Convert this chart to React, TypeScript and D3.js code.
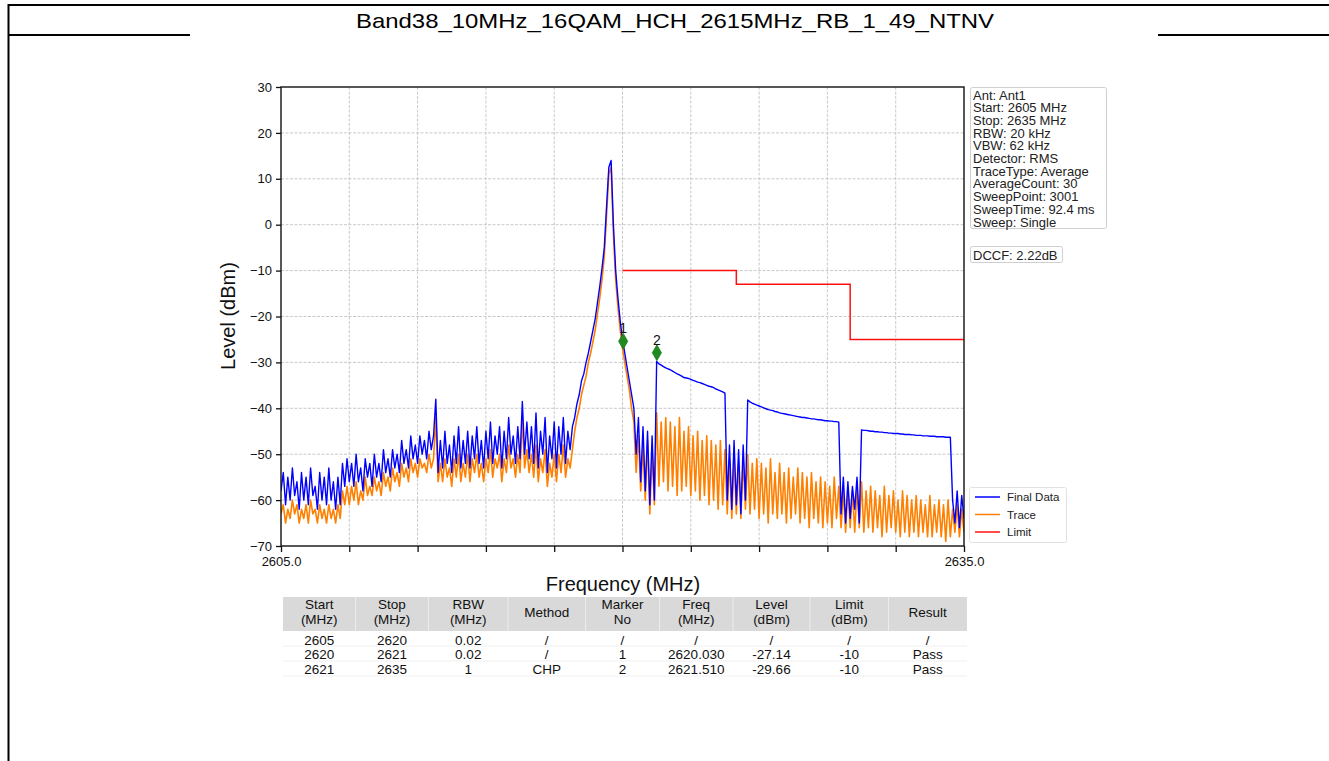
import React, { useEffect, useRef } from "react";
import * as d3 from "d3";

// spectrum sweep, 2605..2635 MHz, one value every 0.1 MHz
const chartTitle = "Band38_10MHz_16QAM_HCH_2615MHz_RB_1_49_NTNV";
const freqStart = 2605;
const freqStop = 2635;
const freqStep = 0.1;

// Final Data (blue)
const finalData = [
  -58, -54, -61, -55, -60, -53, -59, -56, -62, -54,
  -60, -55, -61, -53, -59, -57, -62, -54, -60, -55,
  -61, -53, -60, -56, -62, -55, -61, -52, -57, -51,
  -56, -52, -57, -50, -56, -53, -58, -51, -55, -52,
  -57, -50, -55, -52, -56, -49, -54, -51, -55, -49,
  -53, -50, -54, -47, -52, -49, -53, -46, -51, -48,
  -52, -46, -50, -47, -51, -45, -49, -46, -38, -54,
  -47, -53, -45, -52, -48, -54, -46, -52, -44, -53,
  -47, -52, -45, -53, -46, -51, -44, -52, -47, -53,
  -45, -51, -43, -52, -46, -50, -44, -53, -45, -51,
  -42, -50, -46, -52, -44, -51, -38.5, -50, -43, -51,
  -44, -52, -41, -53, -45, -50, -42, -54, -46, -51,
  -43, -53, -44, -50, -42, -52, -45, -49, -44, -42,
  -39, -37, -34, -32.5, -30, -28, -25.5, -23, -20.5, -17,
  -13.5, -9.5, -5, 4, 12.5, 14, 0, -10, -16, -21,
  -25, -28, -31, -34, -37, -40, -50, -42, -56, -44,
  -58, -45, -61, -46, -60, -29.8, -30.3, -30.6, -30.9, -31.2,
  -31.4, -31.6, -31.9, -32.2, -32.5, -32.7, -33.0, -33.3, -33.4, -33.5,
  -33.7, -33.9, -34.1, -34.3, -34.4, -34.6, -34.8, -35.0, -35.2, -35.3,
  -35.5, -35.8, -36.0, -36.2, -36.4, -36.7, -60, -48, -62, -47,
  -61, -49, -63, -48, -60, -38.2, -38.6, -38.9, -39.1, -39.3,
  -39.5, -39.7, -39.9, -40.1, -40.3, -40.4, -40.5, -40.7, -40.8, -41.0,
  -41.1, -41.2, -41.3, -41.4, -41.5, -41.6, -41.7, -41.8, -41.9, -42.0,
  -42.0, -42.1, -42.2, -42.3, -42.3, -42.4, -42.5, -42.5, -42.6, -42.7,
  -42.7, -42.8, -42.8, -42.9, -42.9, -43.0, -63, -55, -65, -56,
  -64, -57, -62, -55, -65, -44.7, -44.8, -44.8, -44.9, -45.0,
  -45.0, -45.1, -45.1, -45.2, -45.2, -45.3, -45.3, -45.4, -45.4, -45.5,
  -45.5, -45.5, -45.6, -45.6, -45.7, -45.7, -45.7, -45.8, -45.8, -45.9,
  -45.9, -45.9, -46.0, -46.0, -46.0, -46.1, -46.1, -46.1, -46.2, -46.2,
  -46.2, -46.2, -46.3, -46.3, -46.3, -60, -65, -58, -66, -59,
  -64,
];

// Trace (orange)
const traceData = [
  -63, -61, -65, -62, -64, -60, -63, -61, -65, -62,
  -64, -61, -65, -60, -63, -62, -65, -61, -64, -62,
  -65, -61, -64, -62, -65, -61, -64, -58, -61, -57,
  -61, -57, -60, -56, -61, -58, -60, -55, -59, -57,
  -59, -55, -58, -56, -59, -54, -57, -55, -58, -53,
  -56, -54, -57, -52, -55, -53, -56, -51, -54, -52,
  -55, -51, -53, -52, -54, -50, -53, -51, -42, -56,
  -52, -56, -51, -55, -53, -57, -51, -55, -50, -56,
  -52, -55, -50, -56, -51, -54, -50, -55, -52, -56,
  -51, -54, -49, -55, -51, -53, -50, -56, -51, -54,
  -48, -53, -51, -55, -50, -54, -42, -53, -49, -54,
  -50, -55, -48, -56, -51, -54, -49, -57, -52, -55,
  -50, -56, -50, -54, -48, -55, -51, -53, -49, -45,
  -42, -40, -37, -35, -33, -30, -28, -25.5, -23, -19.5,
  -16, -12, -7, 2, 11, 12.5, -2, -12, -18, -23,
  -27, -30, -33, -36, -40, -43, -54, -46, -58, -48,
  -60, -47, -63, -49, -61, -41, -57, -43, -56, -42,
  -58, -43, -57, -44, -59, -42, -58, -45, -57, -44,
  -59, -46, -58, -45, -60, -47, -59, -46, -61, -47,
  -60, -48, -62, -47, -61, -49, -63, -51, -64, -50,
  -63, -52, -64, -51, -62, -50, -63, -52, -62, -51,
  -64, -52, -63, -53, -65, -51, -63, -54, -64, -52,
  -63, -54, -65, -53, -64, -55, -63, -53, -65, -54,
  -64, -55, -66, -54, -64, -56, -65, -55, -66, -56,
  -65, -57, -66, -55, -64, -57, -66, -58, -67, -57,
  -66, -58, -67, -57, -66, -56, -67, -58, -66, -57,
  -67, -58, -66, -59, -68, -57, -67, -59, -66, -58,
  -67, -60, -68, -58, -67, -59, -68, -60, -67, -59,
  -68, -60, -67, -61, -68, -59, -68, -61, -67, -60,
  -68, -61, -69, -60, -68, -62, -67, -61, -68, -62,
  -67,
];

// limit mask
const limitFreqs = [2620, 2625, 2630, 2635];
const limitLevels = [-10, -13, -25, -25];

// markers
const markerNames = ["1", "2"];
const markerFreqs = [2620.03, 2621.51];
const markerLevels = [-25.4, -27.9];

const yTicks = [30, 20, 10, 0, -10, -20, -30, -40, -50, -60, -70];
const xTicks = [2605, 2608, 2611, 2614, 2617, 2620, 2623, 2626, 2629, 2632, 2635];
const xLabeled = [2605, 2635];

const infoLines = [
  "Ant: Ant1",
  "Start: 2605 MHz",
  "Stop: 2635 MHz",
  "RBW: 20 kHz",
  "VBW: 62 kHz",
  "Detector: RMS",
  "TraceType: Average",
  "AverageCount: 30",
  "SweepPoint: 3001",
  "SweepTime: 92.4 ms",
  "Sweep: Single",
];
const dccfText = "DCCF: 2.22dB";

const legendNames = ["Final Data", "Trace", "Limit"];
const legendColors = ["#0000ff", "#ff8000", "#ff1010"];

const tableHeaders = [
  ["Start", "(MHz)"],
  ["Stop", "(MHz)"],
  ["RBW", "(MHz)"],
  ["Method"],
  ["Marker", "No"],
  ["Freq", "(MHz)"],
  ["Level", "(dBm)"],
  ["Limit", "(dBm)"],
  ["Result"],
];
const tableRows = [
  ["2605", "2620", "0.02", "/", "/", "/", "/", "/", "/"],
  ["2620", "2621", "0.02", "/", "1", "2620.030", "-27.14", "-10", "Pass"],
  ["2621", "2635", "1", "CHP", "2", "2621.510", "-29.66", "-10", "Pass"],
];
const colWidths = [72.5, 73, 79.5, 77.5, 74, 73.5, 77, 78.5, 78.5];

const FONT = "'Liberation Sans', Arial, Helvetica, sans-serif";

export default function App() {
  const ref = useRef<SVGSVGElement>(null);

  useEffect(() => {
    const svg = d3.select(ref.current);
    svg.selectAll("*").remove();

    const W = 1329, H = 761;
    const pl = 281, pr = 964, pt = 87, pb = 546;

    // page frame
    svg.append("rect").attr("width", W).attr("height", H).attr("fill", "#fff");
    svg.append("line").attr("x1", 8).attr("x2", W).attr("y1", 5).attr("y2", 5)
      .attr("stroke", "#000").attr("stroke-width", 2);
    svg.append("line").attr("x1", 8.5).attr("x2", 8.5).attr("y1", 4).attr("y2", H)
      .attr("stroke", "#000").attr("stroke-width", 2);
    svg.append("line").attr("x1", 8).attr("x2", 190).attr("y1", 35).attr("y2", 35)
      .attr("stroke", "#000").attr("stroke-width", 2);
    svg.append("line").attr("x1", 1158).attr("x2", W).attr("y1", 35).attr("y2", 35)
      .attr("stroke", "#000").attr("stroke-width", 2);

    svg.append("text").text(chartTitle)
      .attr("x", 675).attr("y", 27.5).attr("text-anchor", "middle")
      .attr("font-family", FONT).attr("font-size", 21)
      .attr("textLength", 638).attr("lengthAdjust", "spacingAndGlyphs");

    const x = d3.scaleLinear().domain([freqStart, freqStop]).range([pl, pr]);
    const y = d3.scaleLinear().domain([-70, 30]).range([pb, pt]);

    // grid
    const grid = svg.append("g");
    grid.selectAll(".gx").data(xTicks.slice(1, -1)).join("line")
      .attr("x1", (d) => x(d)).attr("x2", (d) => x(d)).attr("y1", pt).attr("y2", pb)
      .attr("stroke", "#c4c4c4").attr("stroke-width", 0.9).attr("stroke-dasharray", "3,1.5");
    grid.selectAll(".gy").data(yTicks.slice(1, -1)).join("line")
      .attr("y1", (d) => y(d)).attr("y2", (d) => y(d)).attr("x1", pl).attr("x2", pr)
      .attr("stroke", "#c4c4c4").attr("stroke-width", 0.9).attr("stroke-dasharray", "3,1.5");

    // axes
    const yAxis = svg.append("g").attr("transform", `translate(${pl},0)`)
      .call(d3.axisLeft(y).tickValues(yTicks).tickSize(5).tickPadding(4));
    const xAxis = svg.append("g").attr("transform", `translate(0,${pb})`)
      .call(d3.axisBottom(x).tickValues(xTicks).tickSize(6).tickPadding(5)
        .tickFormat((d: any) => (xLabeled.includes(d) ? d3.format(".1f")(d) : "")));
    [yAxis, xAxis].forEach((a) => {
      a.select(".domain").remove();
      a.selectAll("line").attr("stroke", "#111").attr("stroke-width", 1.3);
      a.selectAll("text").attr("font-family", FONT).attr("font-size", 13).attr("fill", "#111");
    });

    // traces
    svg.append("clipPath").attr("id", "plotclip").append("rect")
      .attr("x", pl).attr("y", pt).attr("width", pr - pl).attr("height", pb - pt);
    const idx = (i: number) => freqStart + i * freqStep;
    const line = d3.line<number>().x((d, i) => x(idx(i))).y((d) => y(d));
    const plotG = svg.append("g").attr("clip-path", "url(#plotclip)");
    plotG.append("path").datum(traceData).attr("d", line)
      .attr("fill", "none").attr("stroke", legendColors[1]).attr("stroke-width", 1.6)
      .attr("stroke-linejoin", "round");
    plotG.append("path").datum(finalData).attr("d", line)
      .attr("fill", "none").attr("stroke", legendColors[0]).attr("stroke-width", 1.4)
      .attr("stroke-linejoin", "round");

    const limitLine = d3.line<number>()
      .x((d, i) => x(limitFreqs[i])).y((d) => y(d)).curve(d3.curveStepAfter);
    plotG.append("path").datum(limitLevels).attr("d", limitLine)
      .attr("fill", "none").attr("stroke", legendColors[2]).attr("stroke-width", 1.5);

    // markers
    const diamond = d3.symbol().type(d3.symbolDiamond).size(72);
    markerNames.forEach((m, i) => {
      const mx = x(markerFreqs[i]), my = y(markerLevels[i]);
      svg.append("path").attr("d", diamond()).attr("transform", `translate(${mx},${my})`)
        .attr("fill", "#1f8a1f").attr("stroke", "#1a7a1a").attr("stroke-width", 0.8);
      svg.append("text").text(m).attr("x", mx).attr("y", my - 8)
        .attr("text-anchor", "middle").attr("font-family", FONT).attr("font-size", 14)
        .attr("fill", "#111");
    });

    // spines
    svg.append("rect").attr("x", pl).attr("y", pt).attr("width", pr - pl).attr("height", pb - pt)
      .attr("fill", "none").attr("stroke", "#111").attr("stroke-width", 1.4);

    // axis titles
    svg.append("text").text("Frequency (MHz)").attr("x", 623).attr("y", 591)
      .attr("text-anchor", "middle").attr("font-family", FONT).attr("font-size", 20).attr("fill", "#111");
    svg.append("text").text("Level (dBm)")
      .attr("transform", "translate(235,316) rotate(-90)")
      .attr("text-anchor", "middle").attr("font-family", FONT).attr("font-size", 20).attr("fill", "#111");

    // info box
    svg.append("rect").attr("x", 970.5).attr("y", 87.5).attr("width", 136).attr("height", 141)
      .attr("rx", 2).attr("fill", "#fff").attr("stroke", "#cfcfcf");
    svg.append("g").selectAll("text").data(infoLines).join("text")
      .text((d) => d).attr("x", 973).attr("y", (d, i) => 99.5 + i * 12.7)
      .attr("font-family", FONT).attr("font-size", 13).attr("fill", "#222");
    svg.append("rect").attr("x", 970.5).attr("y", 246.5).attr("width", 92).attr("height", 16)
      .attr("rx", 2).attr("fill", "#fff").attr("stroke", "#cfcfcf");
    svg.append("text").text(dccfText).attr("x", 973).attr("y", 259.5)
      .attr("font-family", FONT).attr("font-size", 13).attr("fill", "#222");

    // legend
    svg.append("rect").attr("x", 969.5).attr("y", 487.5).attr("width", 97).attr("height", 55)
      .attr("rx", 2).attr("fill", "#fff").attr("stroke", "#e2e2e2");
    const lg = svg.append("g").selectAll("g").data(legendNames).join("g")
      .attr("transform", (d, i) => `translate(0,${497 + i * 17.5})`);
    lg.append("line").attr("x1", 975).attr("x2", 1000).attr("y1", 0).attr("y2", 0)
      .attr("stroke", (d, i) => legendColors[i]).attr("stroke-width", 1.5);
    lg.append("text").text((d) => d).attr("x", 1007).attr("y", 4)
      .attr("font-family", FONT).attr("font-size", 11.5).attr("fill", "#222");

    // table
    const tx0 = 283;
    const colX: number[] = [];
    colWidths.reduce((acc, w) => { colX.push(acc); return acc + w; }, tx0);
    const tableW = d3.sum(colWidths);
    const tg = svg.append("g").attr("font-family", FONT).attr("font-size", 13.5).attr("fill", "#111");
    tg.append("rect").attr("x", tx0).attr("y", 597).attr("width", tableW).attr("height", 34)
      .attr("fill", "#d9d9d9");
    colX.slice(1).forEach((cx) => {
      tg.append("line").attr("x1", cx).attr("x2", cx).attr("y1", 597).attr("y2", 631)
        .attr("stroke", "#ececec").attr("stroke-width", 1);
    });
    [646, 661, 676].forEach((ly) => {
      tg.append("line").attr("x1", tx0).attr("x2", tx0 + tableW).attr("y1", ly).attr("y2", ly)
        .attr("stroke", "#f0f0f0");
    });
    tableHeaders.forEach((h, c) => {
      const cx = colX[c] + colWidths[c] / 2;
      h.forEach((s, k) => {
        const cy = h.length === 1 ? 612 : 604 + k * 15;
        tg.append("text").text(s).attr("x", cx).attr("y", cy + 4.8).attr("text-anchor", "middle");
      });
    });
    tableRows.forEach((row, r) => {
      row.forEach((s, c) => {
        const cx = colX[c] + colWidths[c] / 2;
        tg.append("text").text(s).attr("x", cx).attr("y", 640 + r * 14.5 + 4.8)
          .attr("text-anchor", "middle");
      });
    });
  }, []);

  return (
    <svg
      ref={ref}
      width={1329}
      height={761}
      style={{ position: "absolute", left: 0, top: 0, display: "block" }}
    />
  );
}
